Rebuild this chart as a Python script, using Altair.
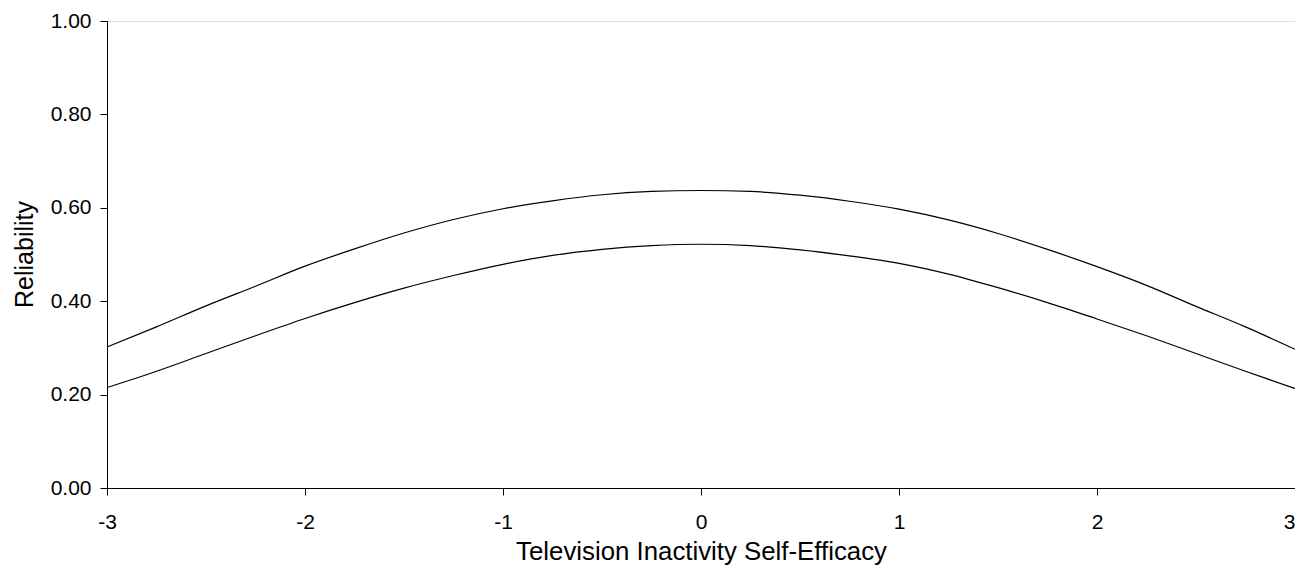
import altair as alt
import pandas as pd

theta = [-3.0, -2.75, -2.5, -2.25, -2.0, -1.75, -1.5, -1.25, -1.0, -0.75, -0.5, -0.25,
         0.0, 0.25, 0.5, 0.75, 1.0, 1.25, 1.5, 1.75, 2.0, 2.25, 2.5, 2.75, 3.0]
upper = [0.302, 0.345, 0.390, 0.432, 0.475, 0.512, 0.546, 0.575, 0.598, 0.615, 0.628, 0.635,
         0.637, 0.635, 0.627, 0.614, 0.597, 0.574, 0.545, 0.511, 0.474, 0.434, 0.389, 0.345, 0.297]
lower = [0.215, 0.250, 0.288, 0.326, 0.363, 0.397, 0.428, 0.455, 0.479, 0.498, 0.511, 0.519,
         0.522, 0.519, 0.510, 0.497, 0.481, 0.458, 0.429, 0.397, 0.362, 0.326, 0.288, 0.250, 0.213]
x_ticks = [-3, -2, -1, 0, 1, 2, 3]
y_ticks = [0.0, 0.2, 0.4, 0.6, 0.8, 1.0]

rows = []
for t, u in zip(theta, upper):
    rows.append({"theta": t, "rel": u, "series": "upper"})
for t, l in zip(theta, lower):
    rows.append({"theta": t, "rel": l, "series": "lower"})
df = pd.DataFrame(rows)

FONT = "Liberation Sans"

chart = alt.Chart(df).mark_line(color="black", strokeWidth=1.2, interpolate="monotone").encode(
    x=alt.X("theta:Q",
            scale=alt.Scale(domain=[-3, 3], nice=False, zero=False),
            axis=alt.Axis(values=x_ticks, labelExpr="'' + datum.value",
                          title="Television Inactivity Self-Efficacy",
                          grid=False, domainColor="black", tickColor="black", tickSize=7,
                          labelFontSize=21, labelFont=FONT, labelColor="black", labelPadding=16,
                          labelAlign={"condition": {"test": "datum.value == 3", "value": "right"},
                                      "value": "center"},
                          labelFlush=False, labelOverlap=False,
                          titleFont=FONT, titleFontSize=25.8, titleFontWeight="normal", titleColor="black",
                          titleBaseline="alphabetic", titleY=71)),
    y=alt.Y("rel:Q",
            scale=alt.Scale(domain=[0, 1], nice=False),
            axis=alt.Axis(values=y_ticks, format=".2f", title="Reliability",
                          grid=False, domainColor="black", tickColor="black", tickSize=7,
                          labelFontSize=21, labelFont=FONT, labelColor="black", labelPadding=9,
                          labelFlush=False, labelOverlap=False,
                          titleFont=FONT, titleFontSize=25, titleFontWeight="normal", titleColor="black",
                          titleBaseline="alphabetic", titleX=-75, titleY=233)),
    detail="series:N",
).properties(
    width=1188, height=467,
    autosize=alt.AutoSizeParams(type="none"),
    padding={"left": 99, "top": 13, "right": 0, "bottom": 77},
).configure_view(stroke=None).configure(background="white")

chart.save("out.html", embed_options={"renderer": "svg", "actions": False})
